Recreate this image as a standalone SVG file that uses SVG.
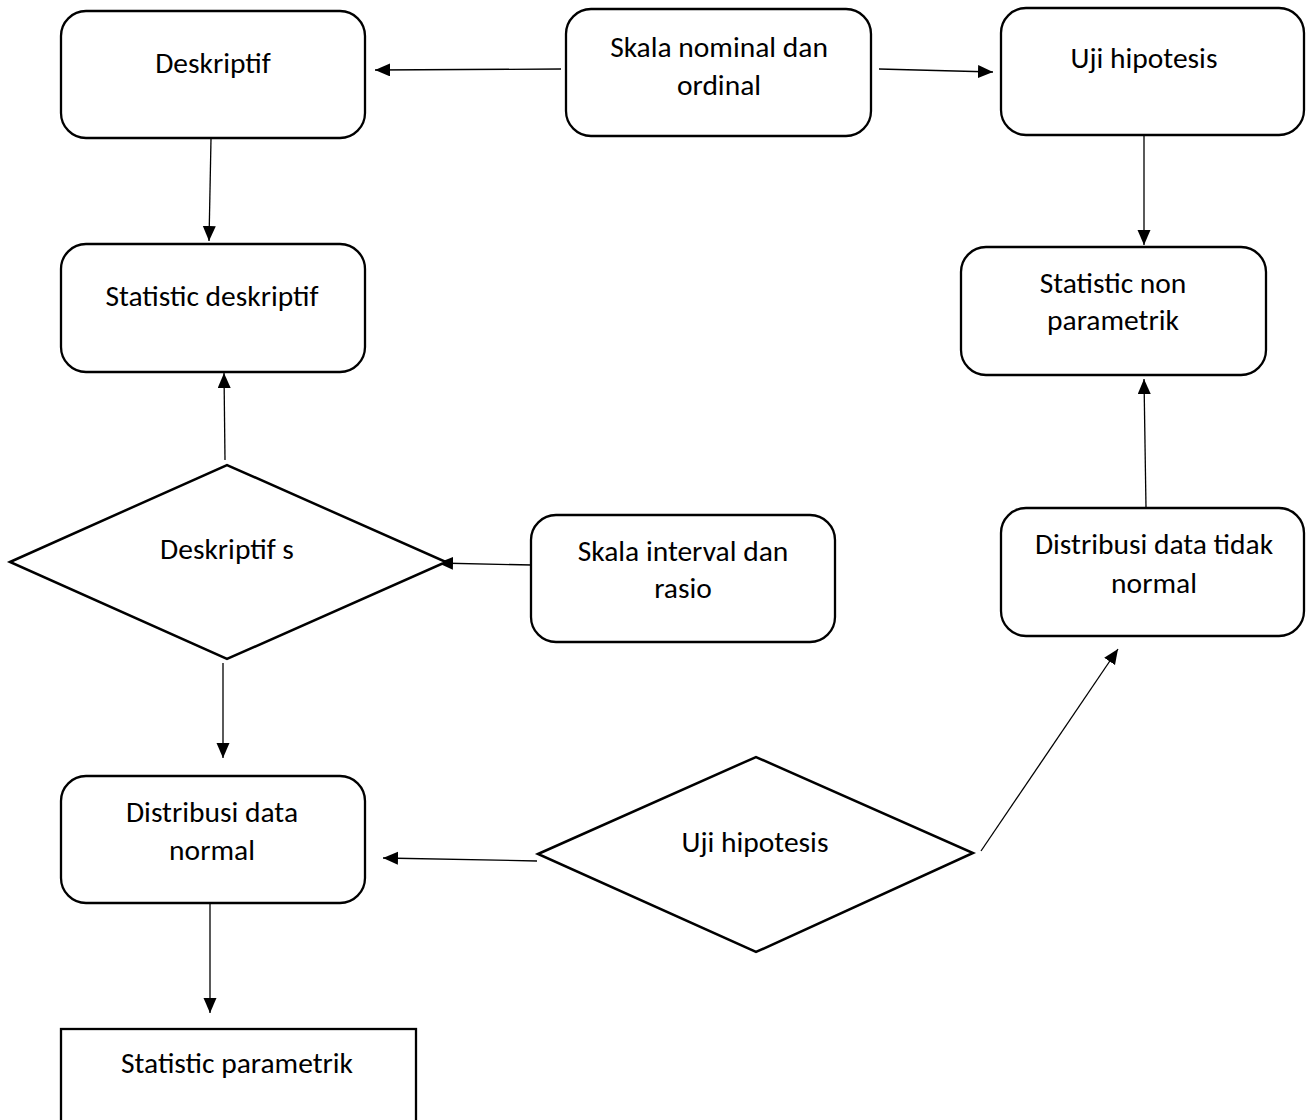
<svg xmlns="http://www.w3.org/2000/svg" width="1306" height="1120" viewBox="0 0 1306 1120">
<defs>
<style>
.box{fill:#fff;stroke:#000;stroke-width:2.3}
.dia{fill:#fff;stroke:#000;stroke-width:2.5}
.c{fill:none;stroke:#000;stroke-width:1.3}
text{font-family:Carlito,Lato,"Liberation Sans",sans-serif;font-size:29.5px;fill:#000;text-anchor:middle}
</style>
<marker id="ah" markerUnits="userSpaceOnUse" markerWidth="16" markerHeight="14" refX="15" refY="6.5" orient="auto">
<path d="M0,0 L15,6.5 L0,13 z" fill="#000"/>
</marker>
</defs>
<rect width="1306" height="1120" fill="#fff"/>
<g id="connectors">
<path class="c" marker-end="url(#ah)" d="M561,69 L375,70"/>
<path class="c" marker-end="url(#ah)" d="M879,69 L993,72"/>
<path class="c" marker-end="url(#ah)" d="M211,139 L209,241"/>
<path class="c" marker-end="url(#ah)" d="M1144,135 L1144,245"/>
<path class="c" marker-end="url(#ah)" d="M225,460 L224,373"/>
<path class="c" marker-end="url(#ah)" d="M532,565 L438,563"/>
<path class="c" marker-end="url(#ah)" d="M223,663 L223,758"/>
<path class="c" marker-end="url(#ah)" d="M1146,508 L1144,379"/>
<path class="c" marker-end="url(#ah)" d="M537,861 L383,858"/>
<path class="c" marker-end="url(#ah)" d="M981,851 L1118,649"/>
<path class="c" marker-end="url(#ah)" d="M210,900 L210,1013"/>
</g>
<g id="n-deskriptif"><rect class="box" x="61" y="11" width="304" height="127" rx="25"/><text x="213" y="73">Deskriptif</text></g>
<g id="n-skala-nominal"><rect class="box" x="566" y="9" width="305" height="127" rx="25"/><text x="719" y="57">Skala nominal dan</text><text x="719" y="95">ordinal</text></g>
<g id="n-uji-top"><rect class="box" x="1001" y="8" width="303" height="127" rx="25"/><text x="1144" y="68">Uji hipotesis</text></g>
<g id="n-stat-deskriptif"><rect class="box" x="61" y="244" width="304" height="128" rx="25"/><text x="212" y="306">Statistic deskriptif</text></g>
<g id="n-stat-nonparam"><rect class="box" x="961" y="247" width="305" height="128" rx="25"/><text x="1113" y="293">Statistic non</text><text x="1113" y="330">parametrik</text></g>
<g id="n-deskriptif-s"><polygon class="dia" points="10,562 227,465 446,562 227,659"/><text x="227" y="559">Deskriptif s</text></g>
<g id="n-skala-interval"><rect class="box" x="531" y="515" width="304" height="127" rx="25"/><text x="683" y="561">Skala interval dan</text><text x="683" y="598">rasio</text></g>
<g id="n-dist-tidak-normal"><rect class="box" x="1001" y="508" width="303" height="128" rx="25"/><text x="1154" y="554">Distribusi data tidak</text><text x="1154" y="593">normal</text></g>
<g id="n-dist-normal"><rect class="box" x="61" y="776" width="304" height="127" rx="25"/><text x="212" y="822">Distribusi data</text><text x="212" y="860">normal</text></g>
<g id="n-uji-diamond"><polygon class="dia" points="538,854 756,757 973,853 756,952"/><text x="755" y="852">Uji hipotesis</text></g>
<g id="n-stat-param"><rect class="box" x="61" y="1029" width="355" height="120"/><text x="237" y="1073">Statistic parametrik</text></g>
</svg>
